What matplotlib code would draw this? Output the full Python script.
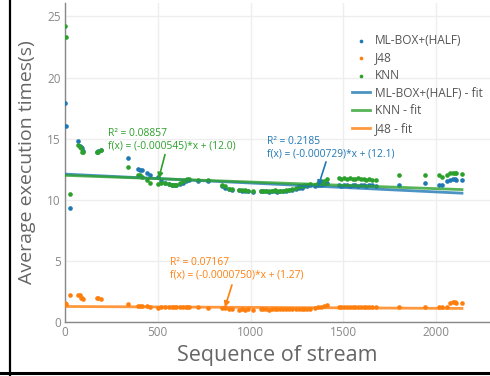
import numpy as np
import matplotlib
matplotlib.use("Agg")
import matplotlib.pyplot as plt
from matplotlib.lines import Line2D

plt.rcParams['font.family'] = ['Open Sans', 'DejaVu Sans']

# stream sequence index (shared by all three series)
seq = [0, 5, 27, 70, 80, 85, 90, 95, 170, 180, 195, 340, 395, 405, 415, 440, 460, 500,
       520, 540, 560, 575, 590, 600, 620, 635, 650, 660, 670, 715, 770, 845, 860, 885,
       900, 940, 955, 970, 985, 1015, 1055, 1070, 1085, 1100, 1115, 1130, 1145, 1160,
       1175, 1190, 1205, 1225, 1245, 1260, 1275, 1290, 1305, 1320, 1350, 1365, 1380,
       1395, 1410, 1475, 1490, 1505, 1520, 1535, 1550, 1565, 1580, 1595, 1610, 1625,
       1640, 1655, 1675, 1800, 1940, 2015, 2030, 2060, 2075, 2090, 2105, 2110, 2140]

mlbox = [17.9, 16.0, 9.3, 14.8, 14.4, 14.3, 14.2, 14.0, 13.9, 14.0, 14.1, 13.4, 12.5, 12.4,
         12.4, 12.2, 12.0, 11.9, 11.5, 11.4, 11.3, 11.2, 11.2, 11.2, 11.3, 11.4, 11.5, 11.6,
         11.6, 11.5, 11.5, 11.1, 11.0, 10.9, 10.8, 10.8, 10.7, 10.7, 10.7, 10.6, 10.7, 10.7,
         10.7, 10.6, 10.7, 10.7, 10.6, 10.7, 10.7, 10.7, 10.8, 10.8, 10.9, 11.0, 11.0, 11.1,
         11.1, 11.2, 11.1, 11.2, 11.2, 11.3, 11.4, 11.2, 11.1, 11.2, 11.2, 11.1, 11.2, 11.2,
         11.1, 11.2, 11.2, 11.1, 11.2, 11.2, 11.1, 11.2, 11.4, 11.2, 11.2, 11.5, 11.6, 11.7,
         11.7, 11.6, 11.6]

knn = [24.2, 23.3, 10.5, 14.5, 14.3, 14.2, 13.9, 13.9, 13.9, 13.9, 14.1, 12.7, 12.0, 12.0,
       11.9, 11.6, 11.4, 11.3, 11.4, 11.4, 11.3, 11.2, 11.2, 11.2, 11.4, 11.5, 11.6, 11.7,
       11.7, 11.6, 11.6, 11.2, 11.1, 10.9, 10.9, 10.8, 10.8, 10.8, 10.7, 10.7, 10.75, 10.7,
       10.75, 10.7, 10.75, 10.8, 10.7, 10.75, 10.75, 10.8, 10.8, 10.85, 11.0, 11.1, 11.1,
       11.2, 11.2, 11.3, 11.2, 11.4, 11.5, 11.5, 11.7, 11.8, 11.7, 11.8, 11.7, 11.8, 11.7,
       11.7, 11.8, 11.7, 11.7, 11.6, 11.7, 11.6, 11.6, 12.0, 12.0, 12.0, 11.9, 12.0, 12.2,
       12.2, 12.2, 12.2, 12.1]

j48 = [1.55, 1.45, 2.2, 2.2, 2.2, 2.0, 1.95, 1.9, 2.0, 1.95, 1.85, 1.5, 1.35, 1.35, 1.35,
       1.3, 1.25, 1.15, 1.2, 1.2, 1.2, 1.25, 1.2, 1.2, 1.25, 1.25, 1.25, 1.2, 1.25, 1.2, 1.15,
       1.15, 1.15, 1.1, 1.05, 1.0, 1.05, 1.0, 1.05, 1.0, 1.05, 1.05, 1.05, 1.0, 1.05, 1.05,
       1.05, 1.05, 1.05, 1.05, 1.05, 1.05, 1.1, 1.1, 1.1, 1.1, 1.1, 1.1, 1.15, 1.2, 1.2, 1.3,
       1.4, 1.25, 1.25, 1.25, 1.25, 1.25, 1.25, 1.25, 1.25, 1.25, 1.25, 1.25, 1.25, 1.25,
       1.25, 1.25, 1.25, 1.25, 1.25, 1.25, 1.55, 1.6, 1.6, 1.55, 1.55]

# fitted lines (slope, intercept, R^2) as reported on the chart
fit_mlbox = (-0.000729, 12.1, 0.2185)
fit_knn = (-0.000545, 12.0, 0.08857)
fit_j48 = (-0.0000750, 1.27, 0.07167)

BLUE, ORANGE, GREEN = '#1f77b4', '#ff7f0e', '#2ca02c'
TXT = '#666666'

fig = plt.figure(figsize=(4.9, 3.76), dpi=100)
ax = fig.add_axes([65 / 490, 54 / 376, 1 - 65 / 490, 319 / 376])

ax.scatter(seq, mlbox, s=11, color=BLUE, lw=0, label='ML-BOX+(HALF)', zorder=3)
ax.scatter(seq, j48, s=11, color=ORANGE, lw=0, label='J48', zorder=3)
ax.scatter(seq, knn, s=11, color=GREEN, lw=0, label='KNN', zorder=3)

xs = np.array([min(seq), max(seq)])
ax.plot(xs, fit_mlbox[0] * xs + fit_mlbox[1], color=BLUE, lw=2, alpha=0.8,
        label='ML-BOX+(HALF) - fit', zorder=4)
ax.plot(xs, fit_knn[0] * xs + fit_knn[1], color=GREEN, lw=2, alpha=0.8,
        label='KNN - fit', zorder=4)
ax.plot(xs, fit_j48[0] * xs + fit_j48[1], color=ORANGE, lw=2, alpha=0.8,
        label='J48 - fit', zorder=4)


def note(fit, color, head_x, tail, text_pos):
    slope, icpt, r2 = fit
    ax.annotate('', xy=(head_x, slope * head_x + icpt), xytext=tail,
                arrowprops=dict(arrowstyle='-|>', color=color, lw=1.2,
                                mutation_scale=8, shrinkA=0, shrinkB=0), zorder=5)
    label = 'R² = %g\nf(x) = (%s)*x + (%s)' % (
        r2, ('%.6f' % slope) if abs(slope) > 1e-4 else '%.7f' % slope,
        ('%.1f' % icpt) if icpt > 5 else '%.2f' % icpt)
    ax.text(text_pos[0], text_pos[1], label, color=color, fontsize=7.4,
            ha='left', va='center', linespacing=1.25, zorder=5)


note(fit_knn, GREEN, 505, (539, 13.7), (232, 14.9))
note(fit_mlbox, BLUE, 1365, (1407, 13.1), (1089, 14.25))
note(fit_j48, ORANGE, 862, (900, 3.03), (566, 4.35))

ax.set_xlim(0, 2291)
ax.set_ylim(0, 26.1)
ax.set_xticks([0, 500, 1000, 1500, 2000])
ax.set_yticks([0, 5, 10, 15, 20, 25])
ax.grid(True, color='#eeeeee', lw=1)
ax.set_axisbelow(True)
ax.tick_params(colors='#999999', labelcolor='#888888', labelsize=8.5, length=0, pad=3)
for side in ['top', 'right']:
    ax.spines[side].set_visible(False)
for side in ['left', 'bottom']:
    ax.spines[side].set_color('#888888')
    ax.spines[side].set_linewidth(1)

ax.set_xlabel('Sequence of stream', fontsize=15.5, color=TXT, labelpad=4)
ax.set_ylabel('Average execution times(s)', fontsize=14, color=TXT, labelpad=8)

leg = ax.legend(loc='upper left', bbox_to_anchor=(352 / 490, 1 - 34 / 376),
                bbox_transform=fig.transFigure, frameon=False, fontsize=8.6,
                labelspacing=0.38, handlelength=1.5, handletextpad=0.4,
                borderpad=0, borderaxespad=0, markerscale=0.8)
for t in leg.get_texts():
    t.set_color('#555555')

# screenshot frame edges
fig.add_artist(Line2D([9.5 / 490, 9.5 / 490], [0, 1], color='black', lw=1.6,
                      transform=fig.transFigure))
fig.add_artist(Line2D([0, 1], [3.5 / 376, 3.5 / 376], color='black', lw=2.2,
                      transform=fig.transFigure))

fig.savefig('out.png', dpi=100)
